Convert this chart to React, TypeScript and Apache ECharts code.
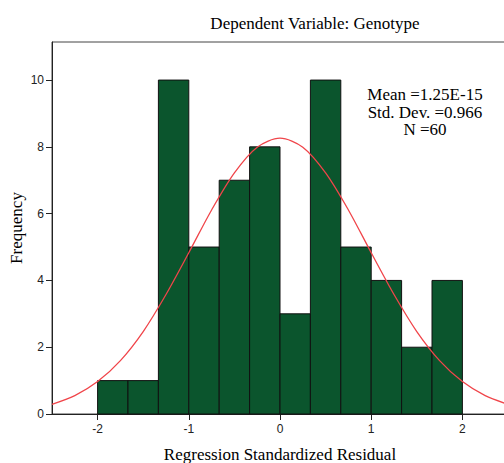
import React, { useEffect, useRef } from "react";
import * as echarts from "echarts";

const binStarts = [-2, -1.6667, -1.3333, -1, -0.6667, -0.3333, 0, 0.3333, 0.6667, 1, 1.3333, 1.6667];
const binEnds = [-1.6667, -1.3333, -1, -0.6667, -0.3333, 0, 0.3333, 0.6667, 1, 1.3333, 1.6667, 2];
const counts = [1, 1, 10, 5, 7, 8, 3, 10, 5, 4, 2, 4];

const curveX = [-2.5, -2.25, -2, -1.75, -1.5, -1.25, -1, -0.75, -0.5, -0.25, 0, 0.25, 0.5, 0.75, 1, 1.25, 1.5, 1.75, 2, 2.25, 2.5];
const curveY = [0.29, 0.55, 0.97, 1.6, 2.47, 3.58, 4.83, 6.11, 7.22, 7.99, 8.26, 7.99, 7.22, 6.11, 4.83, 3.58, 2.47, 1.6, 0.97, 0.55, 0.29];

const xTicks = [-2, -1, 0, 1, 2];
const yTicks = [0, 2, 4, 6, 8, 10];

const title = "Dependent Variable: Genotype";
const statLines = ["Mean =1.25E-15", "Std. Dev. =0.966", "N =60"];
const xName = "Regression Standardized Residual";
const yName = "Frequency";

export default function App() {
  const ref = useRef<HTMLDivElement>(null);
  useEffect(() => {
    if (!ref.current) return;
    const chart = echarts.init(ref.current, null, { renderer: "svg" });
    const serif = "'Liberation Serif', 'DejaVu Serif', serif";
    const sans = "'Liberation Sans', Arial, sans-serif";
    chart.setOption({
      animation: false,
      backgroundColor: "#fff",
      title: {
        text: title,
        left: 310,
        top: 10,
        textAlign: "center",
        textStyle: { fontFamily: serif, fontSize: 17, fontWeight: "normal", color: "#000" },
      },
      grid: {
        left: 52,
        right: -4,
        top: 42,
        bottom: 49,
        show: true,
        borderColor: "#444",
        borderWidth: 1,
        backgroundColor: "transparent",
        containLabel: false,
        outerBoundsMode: "none",
      },
      xAxis: {
        type: "value",
        min: -2.5,
        max: 2.5,
        name: xName,
        nameLocation: "middle",
        nameGap: 32,
        nameTextStyle: { fontFamily: serif, fontSize: 17, color: "#000" },
        splitLine: { show: false },
        axisLine: { show: true, onZero: false, lineStyle: { color: "#222", width: 1 } },
        axisTick: { show: true, length: 6, customValues: xTicks, lineStyle: { color: "#222" } },
        axisLabel: { customValues: xTicks, margin: 9, fontFamily: sans, fontSize: 12, color: "#222" },
      },
      yAxis: {
        type: "value",
        min: 0,
        max: 11.14,
        name: yName,
        nameLocation: "middle",
        nameGap: 27,
        nameMoveOverlap: false,
        nameTextStyle: { fontFamily: serif, fontSize: 17, color: "#000" },
        splitLine: { show: false },
        axisLine: { show: true, onZero: false, lineStyle: { color: "#222", width: 1 } },
        axisTick: { show: true, length: 6, customValues: yTicks, lineStyle: { color: "#222" } },
        axisLabel: { customValues: yTicks, margin: 8, fontFamily: sans, fontSize: 12, color: "#222" },
      },
      graphic: [
        {
          type: "text",
          x: 425,
          y: 86,
          style: {
            text: statLines.join("\n"),
            align: "center",
            font: "17px " + serif,
            lineHeight: 17.5,
            fill: "#000",
          },
        },
      ],
      series: [
        {
          type: "custom",
          data: binStarts.map((s, i) => [s, binEnds[i], counts[i]]),
          encode: { x: [0, 1], y: 2 },
          renderItem: (params: any, api: any) => {
            const p0 = api.coord([api.value(0), api.value(2)]);
            const p1 = api.coord([api.value(1), 0]);
            return {
              type: "rect",
              shape: { x: p0[0], y: p0[1], width: p1[0] - p0[0], height: p1[1] - p0[1] },
              style: { fill: "#0b552d", stroke: "#111", lineWidth: 1 },
            };
          },
          z: 2,
        },
        {
          type: "line",
          data: curveX.map((x, i) => [x, curveY[i]]),
          smooth: 0.3,
          showSymbol: false,
          lineStyle: { color: "#f0454a", width: 1.3 },
          z: 3,
        },
      ],
    });
    return () => chart.dispose();
  }, []);
  return <div ref={ref} style={{ position: "absolute", left: 0, top: 0, width: 504, height: 463 }} />;
}
